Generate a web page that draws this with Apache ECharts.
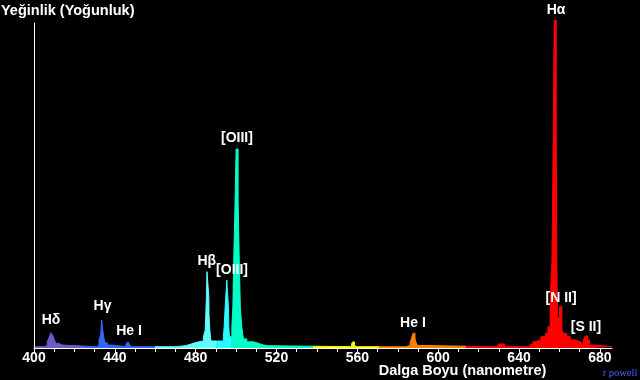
<!DOCTYPE html>
<html>
<head>
<meta charset="utf-8">
<script src="https://cdn.jsdelivr.net/npm/echarts@6/dist/echarts.min.js"></script>
<style>
html,body{margin:0;padding:0;background:#000;}
#chart{width:640px;height:380px;}
</style>
</head>
<body>
<div id="chart"></div>
<script>
// ---- data (wavelength nm, relative intensity; step bins, left edges) ----
const violetBlueLines = [
  [400,0.4],[405.5,0.8],[406.6,1.9],[407.5,3.3],[408.4,4.7],[409.3,3.8],[410.2,2.2],[411.1,1.4],[412.4,0.9],[414.0,0.4],
  [431.0,0.9],[432.2,2.5],[433.0,4.0],[433.5,8.6],[434.3,4.0],[435.1,1.6],[436.3,0.9],[438.5,0.4],
  [445.5,1.2],[446.4,1.9],[447.2,1.2],[448.0,0.4]
];
const cyanGreenLines = [
  [470.6,0.7],[474.8,1.1],[477.2,1.45],[478.9,1.75],[480.5,2.15],[483.8,3.3],[484.7,5.5],[485.0,10.2],[485.3,15.8],
  [485.6,23.5],[486.5,15.8],[486.6,10.2],[487.0,5.5],[487.3,3.3],[487.6,2.15],
  [493.7,3.5],[494.1,6.55],[494.6,12.7],[495.4,20.9],[496.2,12.7],[496.4,6.55],[496.7,3.5],
  [497.9,6.55],[498.4,12.7],[498.9,28.6],[499.5,45],[500.0,61.2],[501.0,45],[501.5,28.6],[502.1,12.7],[502.8,6.55],
  [503.6,2.8],[505.3,1.9],[508.6,1.45],[511.0,0.9],[513.5,0.7],[516.0,0.4]
];
const yellowOrangeLines = [
  [557.1,1.1],[557.6,1.85],[558.6,1.1],[559.1,0.4],
  [584.0,0.8],[586.1,1.6],[586.8,3.0],[587.5,4.5],[588.5,3.0],[589.1,1.6],[589.7,0.8],[590.6,0.4],
  [629.3,0.8],[630.0,1.25],[632.7,0.8],[633.2,0.4]
];
const redLines = [
  [645.5,1.2],[646.9,1.9],[648.0,2.5],[650.8,3.5],[653.0,4.5],[654.3,6.55],[655.4,14.8],[656.3,27],[656.9,64],
  [657.4,100.9],[658.4,64],[658.7,27],[659.0,9.5],[660.0,12.7],[661.2,5.5],[662.0,4.5],[663.7,3.5],[665.3,2.5],
  [667.8,1.9],[670.3,1.3],[671.9,2.5],[672.8,3.7],[673.9,2.5],[674.9,0.9],[676.9,0.4],[686,0.4]
];
const bandEdges = [400, 425, 460, 490.1, 497.5, 538, 570.5, 614, 686];
const bandColors = ['#6a5acd', '#3366ff', '#5effff', '#2afaff', '#00ffc8', '#ffff00', '#ff7f00', '#ff0000'];

const lineNames = ['H\u03b1', '[OIII]', 'H\u03b2', '[OIII]', 'H\u03b3', 'H\u03b4', 'He I', 'He I', '[N II]', '[S II]'];
const labelWavelengths = [658.3, 500.4, 485.5, 498.0, 433.9, 408.4, 447.0, 587.5, 660.8, 673.1];
const labelHeights = [104, 64.6, 26.6, 24.1, 12.9, 8.5, 5.2, 7.7, 15.4, 6.3];

const majorTicks = [400, 440, 480, 520, 560, 600, 640, 680];
const minorTicks = [400,410,420,430,440,450,460,470,480,490,500,510,520,530,540,550,560,570,580,590,600,610,620,630,640,650,660,670,680];

// ---- build ----
const spectrum = [].concat(violetBlueLines, cyanGreenLines, yellowOrangeLines, redLines);
const pieces = bandColors.map((c, i) => (i === bandColors.length - 1
  ? {gte: bandEdges[i], lte: bandEdges[i + 1], color: c}
  : {gte: bandEdges[i], lt: bandEdges[i + 1], color: c}));
const labelData = lineNames.map((n, i) => ({name: n, value: [labelWavelengths[i], labelHeights[i]]}));

const chart = echarts.init(document.getElementById('chart'), null, {renderer: 'canvas'});
chart.setOption({
  backgroundColor: '#000',
  animation: false,
  grid: {left: 34, right: 28, top: 23, bottom: 32, containLabel: false},
  xAxis: {
    type: 'value', min: 400, max: 686, z: 10,
    axisLine: {show: true, lineStyle: {color: '#fff', width: 1}},
    axisTick: {show: true, customValues: minorTicks, length: 4, lineStyle: {color: '#fff'}},
    axisLabel: {show: true, customValues: majorTicks, color: '#fff', fontWeight: 'bold', fontSize: 14,
      fontFamily: 'Liberation Sans', margin: 3},
    splitLine: {show: false}
  },
  yAxis: {
    type: 'value', min: 0, max: 100, z: 10,
    axisLine: {show: true, lineStyle: {color: '#fff', width: 1}},
    axisTick: {show: false}, axisLabel: {show: false}, splitLine: {show: false}
  },
  visualMap: {type: 'piecewise', show: false, dimension: 0, seriesIndex: 0, pieces: pieces},
  series: [
    {
      type: 'line', data: spectrum, step: 'end', showSymbol: false, symbol: 'none', clip: false, z: 2,
      lineStyle: {width: 1}, areaStyle: {opacity: 1}
    },
    {
      type: 'scatter', data: labelData, symbolSize: 0, clip: false, silent: true, z: 20, zlevel: 1,
      label: {show: true, position: 'inside', formatter: '{b}', color: '#ffffff', fontSize: 14,
        fontWeight: 'bold', fontFamily: 'Liberation Sans', opacity: 1}
    }
  ],
  graphic: [
    {type: 'text', x: 1, y: 10.5, style: {text: 'Ye\u011finlik (Yo\u011funluk)', fill: '#fff',
      font: 'bold 14.5px "Liberation Sans"', textAlign: 'left', textVerticalAlign: 'middle'}},
    {type: 'text', x: 462.5, y: 370.5, style: {text: 'Dalga Boyu (nanometre)', fill: '#fff',
      font: 'bold 14.5px "Liberation Sans"', textAlign: 'center', textVerticalAlign: 'middle'}},
    {type: 'text', x: 620, y: 373, style: {text: 'r powell', fill: '#4466ff',
      font: '10.5px "Liberation Serif"', textAlign: 'center', textVerticalAlign: 'middle'}}
  ]
});
</script>
</body>
</html>
